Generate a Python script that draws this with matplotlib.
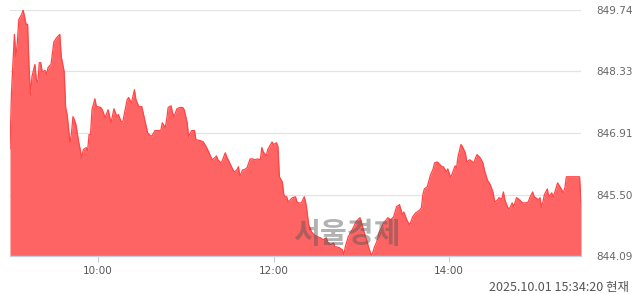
import matplotlib.pyplot as plt
from matplotlib.ticker import FixedLocator, FuncFormatter

# intraday index, 2025-10-01
times = [
    "09:00", "09:01", "09:03", "09:04", "09:05", "09:06", "09:08", "09:09", "09:11", "09:12",
    "09:13", "09:14", "09:15", "09:17", "09:18", "09:19", "09:20", "09:21", "09:22", "09:24",
    "09:25", "09:26", "09:28", "09:30", "09:32", "09:34", "09:35", "09:37", "09:38", "09:39",
    "09:41", "09:42", "09:43", "09:44", "09:45", "09:47", "09:48", "09:49", "09:50", "09:52",
    "09:53", "09:54", "09:55", "09:56", "09:58", "09:59", "10:00", "10:02", "10:03", "10:05",
    "10:07", "10:09", "10:11", "10:13", "10:14", "10:16", "10:17", "10:20", "10:21", "10:23",
    "10:25", "10:26", "10:28", "10:30", "10:32", "10:34", "10:36", "10:37", "10:39", "10:41",
    "10:43", "10:44", "10:46", "10:47", "10:48", "10:50", "10:51", "10:52", "10:54", "10:56",
    "10:58", "10:59", "11:01", "11:02", "11:04", "11:06", "11:07", "11:10", "11:12", "11:14",
    "11:16", "11:18", "11:20", "11:21", "11:22", "11:24", "11:25", "11:27", "11:28", "11:30",
    "11:32", "11:33", "11:35", "11:36", "11:37", "11:39", "11:40", "11:42", "11:44", "11:46",
    "11:47", "11:49", "11:51", "11:52", "11:53", "11:55", "11:56", "11:58", "11:59", "12:00",
    "12:02", "12:03", "12:04", "12:06", "12:07", "12:08", "12:09", "12:10", "12:12", "12:13",
    "12:15", "12:16", "12:17", "12:19", "12:21", "12:22", "12:23", "12:24", "12:26", "12:28",
    "12:30", "12:32", "12:34", "12:36", "12:37", "12:39", "12:41", "12:42", "12:43", "12:45",
    "12:47", "12:48", "12:49", "12:51", "12:54", "12:56", "12:57", "12:59", "13:00", "13:02",
    "13:04", "13:05", "13:07", "13:09", "13:11", "13:12", "13:14", "13:15", "13:17", "13:18",
    "13:20", "13:22", "13:23", "13:24", "13:26", "13:28", "13:29", "13:31", "13:33", "13:35",
    "13:37", "13:38", "13:40", "13:41", "13:42", "13:43", "13:45", "13:47", "13:49", "13:50",
    "13:52", "13:53", "13:55", "13:56", "13:58", "13:59", "14:01", "14:03", "14:04", "14:05",
    "14:06", "14:08", "14:09", "14:11", "14:12", "14:14", "14:16", "14:17", "14:18", "14:19",
    "14:21", "14:23", "14:24", "14:26", "14:28", "14:30", "14:31", "14:33", "14:34", "14:36",
    "14:37", "14:38", "14:40", "14:41", "14:43", "14:44", "14:46", "14:48", "14:50", "14:52",
    "14:54", "14:55", "14:57", "14:58", "14:59", "15:01", "15:02", "15:03", "15:04", "15:05",
    "15:07", "15:08", "15:10", "15:11", "15:12", "15:14", "15:16", "15:18", "15:19", "15:20",
    "15:29", "15:30",
]
values = [
    846.55, 847.84, 849.18, 848.67, 848.99, 849.52, 849.64, 849.74, 849.41, 849.41,
    848.44, 847.79, 848.21, 848.49, 848.14, 848.07, 848.53, 848.53, 848.32, 848.35,
    848.26, 848.42, 848.49, 849.01, 849.11, 849.18, 848.67, 848.32, 847.50, 847.34,
    846.69, 846.92, 847.29, 847.22, 847.11, 846.69, 846.53, 846.32, 846.53, 846.58,
    846.51, 846.88, 846.88, 847.45, 847.70, 847.52, 847.52, 847.50, 847.45, 847.27,
    847.45, 847.15, 847.47, 847.29, 847.34, 847.17, 847.17, 847.68, 847.73, 847.61,
    847.91, 847.68, 847.52, 847.52, 847.22, 846.92, 846.85, 846.85, 846.97, 846.97,
    846.97, 847.15, 847.04, 847.22, 847.50, 847.54, 847.38, 847.29, 847.47, 847.50,
    847.50, 847.45, 847.15, 846.83, 846.97, 846.97, 846.76, 846.74, 846.71, 846.60,
    846.46, 846.30, 846.35, 846.39, 846.30, 846.23, 846.28, 846.46, 846.37, 846.23,
    846.09, 846.02, 846.07, 846.14, 845.93, 846.07, 846.07, 846.12, 846.32, 846.32,
    846.30, 846.32, 846.30, 846.58, 846.48, 846.39, 846.53, 846.65, 846.71, 846.65,
    846.69, 846.60, 845.91, 845.79, 845.50, 845.45, 845.45, 845.33, 845.40, 845.43,
    845.45, 845.33, 845.31, 845.31, 845.45, 845.31, 845.08, 844.81, 844.64, 844.57,
    844.53, 844.51, 844.46, 844.51, 844.41, 844.35, 844.39, 844.30, 844.30, 844.28,
    844.23, 844.12, 844.30, 844.53, 844.71, 844.85, 844.90, 844.97, 844.87, 844.62,
    844.41, 844.28, 844.09, 844.30, 844.46, 844.62, 844.76, 844.85, 844.92, 844.97,
    844.92, 844.99, 845.10, 845.22, 845.27, 845.04, 845.10, 844.92, 844.80, 844.99,
    845.08, 845.10, 845.15, 845.20, 845.50, 845.63, 845.68, 845.93, 846.09, 846.23,
    846.25, 846.21, 846.14, 846.14, 846.02, 846.09, 845.89, 846.07, 846.16, 846.12,
    846.37, 846.65, 846.60, 846.46, 846.25, 846.30, 846.25, 846.23, 846.35, 846.42,
    846.35, 846.23, 846.07, 845.84, 845.73, 845.54, 845.33, 845.38, 845.43, 845.40,
    845.56, 845.38, 845.20, 845.17, 845.31, 845.22, 845.43, 845.38, 845.31, 845.31,
    845.33, 845.43, 845.56, 845.45, 845.43, 845.38, 845.43, 845.20, 845.33, 845.50,
    845.63, 845.45, 845.54, 845.45, 845.54, 845.77, 845.66, 845.54, 845.66, 845.91,
    845.91, 845.33,
]
y_ticks = [844.09, 845.50, 846.91, 848.33, 849.74]
x_ticks = ["10:00", "12:00", "14:00"]
stamp = "2025.10.01 15:34:20 현재"
watermark = "서울경제"


def to_min(s):
    h, m = s.split(":")
    return int(h) * 60 + int(m)


x = [to_min(t) for t in times]
base = y_ticks[0]
kr = ["Noto Sans CJK KR", "DejaVu Sans"]

fig = plt.figure(figsize=(6.4, 2.94), dpi=100)
ax = fig.add_axes([10 / 640, 38 / 294, 571 / 640, 246 / 294])

ax.fill_between(x, values, base, color="#ff6464", linewidth=0, zorder=2)
ax.plot(x, values, color="#ff4545", linewidth=0.9, zorder=3)

ax.set_xlim(to_min("09:00"), to_min("15:30"))
ax.set_ylim(y_ticks[0], y_ticks[-1])

ax.yaxis.set_major_locator(FixedLocator(y_ticks))
ax.yaxis.set_major_formatter(FuncFormatter(lambda v, p: f"{v:.2f}"))
ax.yaxis.tick_right()
ax.tick_params(axis="y", length=0, pad=11, labelsize=7.5, labelcolor="#666666")
ax.grid(axis="y", color="#e3e3e3", linewidth=0.9, zorder=1)

ax.set_xticks([to_min(t) for t in x_ticks])
ax.set_xticklabels(x_ticks)
ax.tick_params(axis="x", length=4, width=0.8, color="#c5cfe0", pad=3,
               labelsize=7.5, labelcolor="#555555")

for side in ["top", "left", "right"]:
    ax.spines[side].set_visible(False)
ax.spines["bottom"].set_color("#c5cfe0")
ax.spines["bottom"].set_linewidth(1.0)
ax.spines["bottom"].set_zorder(4)

# watermark sits low in the middle, over the area
ax.text(0.59, 0.09, watermark, transform=ax.transAxes, fontsize=21,
        fontweight="bold", family=kr, color="#555555", alpha=0.45,
        ha="center", va="center", zorder=5)

fig.text(629 / 640, 1 - 287 / 294, stamp, ha="right", va="center",
         fontsize=9, color="#555555", family=kr)

fig.savefig("out.png", dpi=100)
